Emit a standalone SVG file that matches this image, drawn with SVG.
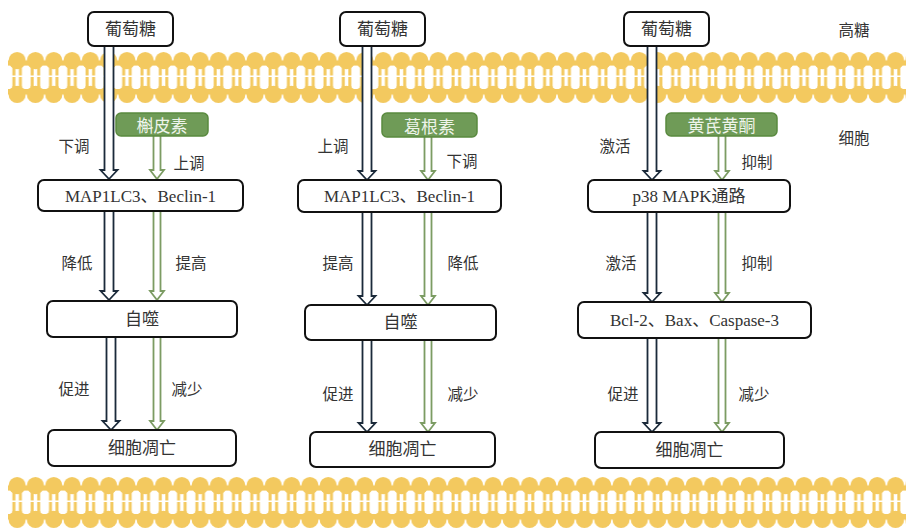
<svg xmlns="http://www.w3.org/2000/svg" xmlns:xlink="http://www.w3.org/1999/xlink" width="906" height="529" viewBox="0 0 906 529">
  <style>
    .box{fill:#fff;stroke:#111;stroke-width:2}
    .drug{fill:#6f9b57;stroke:#5a8a3f;stroke-width:1.5}
    .t{font-family:"Liberation Serif","Noto Sans CJK SC",serif;font-size:17px;fill:#333;text-anchor:middle;dominant-baseline:central}
    .dt{font-family:"Noto Sans CJK SC",sans-serif;font-size:17px;fill:#eef4ea;text-anchor:middle;dominant-baseline:central}
    .lb{font-family:"Noto Sans CJK SC",sans-serif;font-size:15.5px;fill:#333;text-anchor:middle;dominant-baseline:central}
    .dk{fill:#fff;stroke:#1b2a3a;stroke-width:1.8}
    .gr{fill:#fff;stroke:#7c9c63;stroke-width:1.8}
  </style>
  <defs>
    <!-- one phospholipid molecule of the bilayer, repeated along x -->
    <pattern id="lipid" patternUnits="userSpaceOnUse" x="8" y="52" width="18.3" height="51">
      <g fill="#f3c95f">
        <circle cx="9.15" cy="8.6" r="8.6"/>
        <rect x="0" y="8.6" width="18.3" height="5"/>
        <rect x="4.4" y="12" width="9.5" height="4"/>
        <rect x="4.4" y="12" width="3" height="11.5"/>
        <rect x="10.9" y="12" width="3" height="11.5"/>
        <rect x="4.4" y="25" width="3" height="12"/>
        <rect x="10.9" y="25" width="3" height="12"/>
        <rect x="4.4" y="34" width="9.5" height="4"/>
        <rect x="0" y="37" width="18.3" height="5.4"/>
        <circle cx="9.15" cy="42.4" r="8.6"/>
      </g>
    </pattern>
    <g id="bilayer">
      <rect x="8" y="52" width="898" height="51" fill="url(#lipid)"/>
    </g>
  </defs>

  <rect width="906" height="529" fill="#fff"/>

  <!-- membranes -->
  <g id="membranes">
    <use xlink:href="#bilayer"/>
    <use xlink:href="#bilayer" y="425"/>
  </g>

  <!-- side labels -->
  <g id="side-labels">
    <text class="lb" x="854" y="29">高糖</text>
    <text class="lb" x="854" y="137">细胞</text>
  </g>

  <!-- connectors -->
  <g id="connectors">
    <!-- column 1 -->
    <path class="dk" d="M104.5,46 V170 H100.5 L109,179 L117.5,170 H113.5 V46"/>
    <path class="gr" d="M153.5,136 V170 H150 L157,179 L164,170 H160.5 V136"/>
    <path class="dk" d="M104.5,211 V291 H100.5 L109,300 L117.5,291 H113.5 V211"/>
    <path class="gr" d="M153.5,211 V291 H150 L157,300 L164,291 H160.5 V211"/>
    <path class="dk" d="M106.5,337 V421 H102.5 L111,430 L119.5,421 H115.5 V337"/>
    <path class="gr" d="M153.5,337 V421 H150 L157,430 L164,421 H160.5 V337"/>
    <!-- column 2 -->
    <path class="dk" d="M362.5,46 V171 H358.5 L367,180 L375.5,171 H371.5 V46"/>
    <path class="gr" d="M424.5,137 V171 H421 L428,180 L435,171 H431.5 V137"/>
    <path class="dk" d="M362.5,212 V296 H358.5 L367,305 L375.5,296 H371.5 V212"/>
    <path class="gr" d="M424.5,212 V296 H421 L428,305 L435,296 H431.5 V212"/>
    <path class="dk" d="M362.5,340 V423 H358.5 L367,432 L375.5,423 H371.5 V340"/>
    <path class="gr" d="M424.5,340 V423 H421 L428,432 L435,423 H431.5 V340"/>
    <!-- column 3 -->
    <path class="dk" d="M647.5,46 V171 H643.5 L652,180 L660.5,171 H656.5 V46"/>
    <path class="gr" d="M718.5,136 V171 H715 L722,180 L729,171 H725.5 V136"/>
    <path class="dk" d="M647.5,212 V293 H643.5 L652,302 L660.5,293 H656.5 V212"/>
    <path class="gr" d="M718.5,212 V293 H715 L722,302 L729,293 H725.5 V212"/>
    <path class="dk" d="M647.5,338 V423 H643.5 L652,432 L660.5,423 H656.5 V338"/>
    <path class="gr" d="M718.5,338 V423 H715 L722,432 L729,423 H725.5 V338"/>
  </g>

  <!-- connector labels -->
  <g id="connector-labels">
    <text class="lb" x="74" y="145">下调</text>
    <text class="lb" x="189" y="162">上调</text>
    <text class="lb" x="77" y="262">降低</text>
    <text class="lb" x="191" y="262">提高</text>
    <text class="lb" x="74" y="388">促进</text>
    <text class="lb" x="187" y="388">减少</text>

    <text class="lb" x="333" y="145">上调</text>
    <text class="lb" x="462" y="160">下调</text>
    <text class="lb" x="338" y="262">提高</text>
    <text class="lb" x="463" y="262">降低</text>
    <text class="lb" x="338" y="393">促进</text>
    <text class="lb" x="463" y="393">减少</text>

    <text class="lb" x="615" y="145">激活</text>
    <text class="lb" x="757" y="161">抑制</text>
    <text class="lb" x="621" y="262">激活</text>
    <text class="lb" x="757" y="262">抑制</text>
    <text class="lb" x="623" y="393">促进</text>
    <text class="lb" x="754" y="393">减少</text>
  </g>

  <!-- column 1 nodes -->
  <g id="glucose-1"><rect class="box" x="88" y="12" width="85" height="34" rx="6"/><text class="t" x="130.5" y="29">葡萄糖</text></g>
  <g id="quercetin"><rect class="drug" x="116" y="113" width="92" height="23" rx="5"/><text class="dt" x="162" y="124.5">槲皮素</text></g>
  <g id="map1lc3-1"><rect class="box" x="38" y="180" width="205" height="31" rx="6"/><text class="t" x="140.5" y="196">MAP1LC3、Beclin-1</text></g>
  <g id="autophagy-1"><rect class="box" x="47" y="301" width="190" height="36" rx="6"/><text class="t" x="142" y="319">自噬</text></g>
  <g id="apoptosis-1"><rect class="box" x="48" y="430" width="188" height="36" rx="6"/><text class="t" x="142" y="448">细胞凋亡</text></g>

  <!-- column 2 nodes -->
  <g id="glucose-2"><rect class="box" x="340" y="12" width="85" height="34" rx="6"/><text class="t" x="382.5" y="29">葡萄糖</text></g>
  <g id="puerarin"><rect class="drug" x="382" y="113" width="95" height="24" rx="5"/><text class="dt" x="429.5" y="125">葛根素</text></g>
  <g id="map1lc3-2"><rect class="box" x="298" y="180" width="203" height="32" rx="6"/><text class="t" x="399.5" y="196">MAP1LC3、Beclin-1</text></g>
  <g id="autophagy-2"><rect class="box" x="305" y="305" width="191" height="35" rx="6"/><text class="t" x="400.5" y="322.5">自噬</text></g>
  <g id="apoptosis-2"><rect class="box" x="310" y="432" width="185" height="35" rx="6"/><text class="t" x="402.5" y="449.5">细胞凋亡</text></g>

  <!-- column 3 nodes -->
  <g id="glucose-3"><rect class="box" x="624" y="12" width="85" height="34" rx="6"/><text class="t" x="666.5" y="29">葡萄糖</text></g>
  <g id="astragalus-flavone"><rect class="drug" x="666" y="113" width="111" height="23" rx="5"/><text class="dt" x="721.5" y="124.5">黄芪黄酮</text></g>
  <g id="p38-mapk"><rect class="box" x="588" y="180" width="202" height="32" rx="6"/><text class="t" x="689" y="196">p38 MAPK通路</text></g>
  <g id="bcl2-bax-caspase3"><rect class="box" x="578" y="302" width="233" height="36" rx="6"/><text class="t" x="694.5" y="320">Bcl-2、Bax、Caspase-3</text></g>
  <g id="apoptosis-3"><rect class="box" x="595" y="432" width="189" height="36" rx="6"/><text class="t" x="689.5" y="450">细胞凋亡</text></g>
</svg>
